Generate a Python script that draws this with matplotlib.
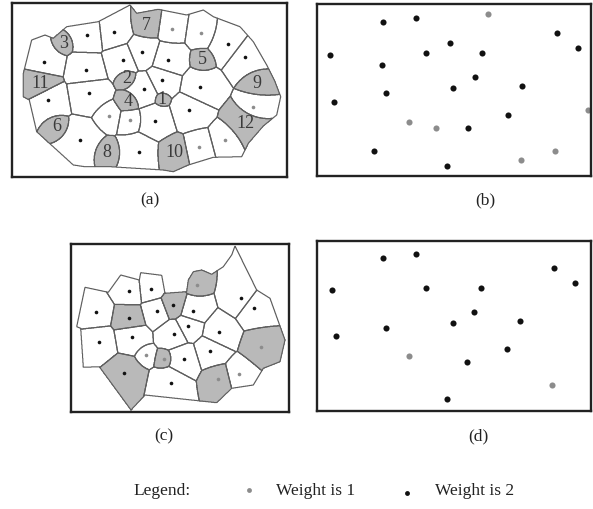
import numpy as np
import matplotlib
matplotlib.use('Agg')
import matplotlib.pyplot as plt
from matplotlib.path import Path

plt.rcParams['font.family'] = ['Liberation Serif', 'DejaVu Serif']

# ---- panel (a): sites (x, y in picture pixels), weights, shading, labels
a_x = [44.3, 63.3, 87.3, 114.0, 146.7, 172.0, 201.0, 228.0, 245.0,
       40.0, 86.3, 122.7, 142.0, 168.3, 202.3, 256.7,
       48.3, 89.0, 126.7, 144.0, 162.0, 200.0,
       128.3, 162.3, 189.3, 253.3, 245.0,
       56.7, 109.0, 130.3, 155.3, 199.0, 225.3,
       80.0, 107.3, 139.3, 174.0]
a_y = [62.0, 43.3, 35.0, 32.0, 25.0, 28.7, 33.0, 43.7, 56.7,
       83.3, 70.0, 60.3, 52.3, 60.3, 60.0, 83.3,
       99.7, 92.7, 78.3, 89.3, 80.3, 87.3,
       101.7, 99.0, 110.3, 106.7, 124.0,
       126.7, 116.0, 120.0, 120.7, 147.0, 140.0,
       140.0, 152.3, 152.0, 152.3]
a_w = [1, 0.55, 1, 1, 0.8, 0.8, 0.8, 1, 1,
       1, 1, 1, 1, 1, 0.6, 0.7,
       1, 1, 0.58, 1, 1, 1,
       0.62, 0.45, 1, 0.8, 1,
       0.6, 0.7, 0.7, 1, 0.85, 0.85,
       1, 0.62, 1, 0.85]
a_label = ['', '3', '', '', '7', '', '', '', '',
           '11', '', '', '', '', '5', '9',
           '', '', '2', '', '', '',
           '4', '1', '', '', '12',
           '6', '', '', '', '', '',
           '', '8', '', '10']
a_dot = ['k', '', 'k', 'k', '', 'g', 'g', 'k', 'k',
         '', 'k', 'k', 'k', 'k', '', '',
         'k', 'k', '', 'k', 'k', 'k',
         '', '', 'k', 'g', '',
         '', 'g', 'g', 'k', 'g', 'g',
         'k', '', 'k', '']
a_bx = [31.7, 45.0, 53.3, 66.7, 98.3, 130.0, 136.7, 158.3, 186.7, 203.3, 213.3, 240.0,
        253.3, 266.7, 275.0, 280.7, 276.7, 263.3, 248.3, 241.7, 213.3, 188.3, 173.3,
        163.3, 110.0, 85.0, 73.3, 36.7, 29.3, 23.3, 23.3]
a_by = [40.0, 35.0, 38.3, 26.7, 21.7, 5.0, 13.3, 9.3, 15.0, 10.0, 16.7, 26.7,
        41.7, 65.0, 81.7, 96.7, 115.0, 126.0, 143.3, 156.7, 157.3, 165.0, 171.7,
        170.0, 166.7, 166.7, 165.0, 131.7, 100.0, 96.7, 73.3]

# ---- panel (c)
c_x = [129.3, 151.0, 96.0, 129.0, 157.0, 172.7, 193.3, 240.7, 254.0,
       99.3, 131.7, 174.3, 188.3, 218.7, 183.7, 210.0, 124.3, 170.7,
       196.7, 146.3, 163.7, 260.7, 218.0, 239.3]
c_y = [291.0, 288.7, 312.3, 318.3, 310.7, 304.7, 310.7, 297.7, 307.7,
       342.3, 336.7, 333.7, 326.3, 332.3, 358.7, 350.7, 373.3, 383.0,
       285.3, 355.0, 358.7, 346.7, 379.0, 373.7]
c_w = [1, 1, 1, 1, 1, 1, 1, 1, 1,
       1, 1, 1, 1, 1, 1, 1, 1, 1,
       0.7, 0.6, 0.55, 0.9, 0.85, 0.85]
c_shade = [0, 0, 0, 1, 0, 1, 0, 0, 0,
           0, 0, 0, 0, 0, 0, 0, 1, 0,
           1, 0, 1, 1, 1, 0]
c_dot = ['k'] * 18 + ['g'] * 6
c_bx = [85.0, 108.3, 120.7, 139.3, 140.7, 161.7, 165.0, 186.7, 188.3, 193.3, 201.7,
        211.7, 223.3, 231.7, 235.0, 256.7, 270.0, 285.0, 280.0, 263.3, 253.3, 231.7,
        216.7, 145.0, 131.0, 99.3, 83.3, 80.7, 76.7]
c_by = [287.3, 292.3, 275.0, 280.0, 272.7, 275.3, 293.3, 291.7, 280.0, 271.7, 270.0,
        274.3, 266.7, 255.0, 246.0, 290.0, 298.3, 340.0, 361.7, 368.3, 385.0, 388.3,
        402.7, 395.0, 410.0, 366.7, 367.3, 328.3, 326.7]

# ---- panel (b) and (d): weight-2 (black) and weight-1 (grey) points
b_black_x = [330.0, 382.7, 416.0, 450.3, 426.3, 482.3, 382.0, 474.7, 385.7,
             453.0, 522.3, 334.3, 508.3, 468.0, 374.3, 447.0, 556.7, 577.7]
b_black_y = [55.0, 22.3, 18.0, 43.0, 53.0, 53.0, 64.7, 77.3, 93.3,
             88.3, 86.3, 101.7, 115.0, 128.3, 151.3, 166.0, 32.7, 48.0]
b_grey_x = [487.7, 409.0, 435.7, 521.3, 554.7, 588.3]
b_grey_y = [13.7, 122.0, 128.0, 159.7, 151.3, 110.0]

d_black_x = [383.3, 416.0, 331.7, 426.3, 481.3, 554.3, 575.0, 473.7, 452.7,
             520.3, 386.0, 336.0, 506.7, 467.3, 446.7]
d_black_y = [258.0, 253.7, 290.3, 288.3, 288.3, 268.3, 283.3, 312.3, 323.3,
             321.0, 328.0, 336.3, 349.3, 362.3, 399.3]
d_grey_x = [409.3, 552.3]
d_grey_y = [356.0, 385.0]

W, H = 593, 509
EDGE = '#5e5e5e'
FILL = '#b9b9b9'
BLACK = '#111111'
GREY = '#8c8c8c'

fig = plt.figure(figsize=(W / 100, H / 100), dpi=100)

# overlay for captions and legend
ov = fig.add_axes([0, 0, 1, 1])
ov.set_xlim(0, W)
ov.set_ylim(H, 0)
ov.axis('off')


def panel(x0, x1, y0, y1):
    ax = fig.add_axes([x0 / W, 1 - y1 / H, (x1 - x0) / W, (y1 - y0) / H])
    ax.set_xlim(x0, x1)
    ax.set_ylim(y1, y0)
    ax.set_xticks([])
    ax.set_yticks([])
    for s in ax.spines.values():
        s.set_linewidth(1.7)
        s.set_color('#222222')
    return ax


def cells(ax, xs, ys, ws, bx, by, shaded, step=0.3):
    x0, x1 = ax.get_xlim()
    y1, y0 = ax.get_ylim()
    gx = np.arange(x0, x1, step)
    gy = np.arange(y0, y1, step)
    X, Y = np.meshgrid(gx, gy)
    best = np.full(X.shape, np.inf)
    lab = np.full(X.shape, -1)
    for i, (sx, sy, w) in enumerate(zip(xs, ys, ws)):
        d = np.hypot(X - sx, Y - sy) / w
        m = d < best
        best[m] = d[m]
        lab[m] = i
    inside = Path(np.column_stack([bx, by])).contains_points(
        np.column_stack([X.ravel(), Y.ravel()])).reshape(X.shape)
    lab[~inside] = -1
    sh = np.isin(lab, [i for i, s in enumerate(shaded) if s]).astype(float)
    ax.contourf(X, Y, sh, levels=[0.5, 1.5], colors=[FILL])
    for i in range(len(xs)):
        ax.contour(X, Y, (lab == i).astype(float), levels=[0.5],
                   colors=EDGE, linewidths=0.8)


def dots(ax, xs, ys, kinds, size=2.6):
    for k, col in (('k', BLACK), ('g', GREY)):
        px = [x for x, t in zip(xs, kinds) if t == k]
        py = [y for y, t in zip(ys, kinds) if t == k]
        ax.plot(px, py, 'o', color=col, ms=size, mec='none', zorder=3)


# (a)
ax_a = panel(11.7, 287.3, 3.3, 176.7)
cells(ax_a, a_x, a_y, a_w, a_bx, a_by, [lab != '' for lab in a_label])
dots(ax_a, a_x, a_y, a_dot)
for x, y, t in zip(a_x, a_y, a_label):
    if t:
        ax_a.text(x, y, t, ha='center', va='center', fontsize=13, color='#3a3a3a', zorder=4)

# (b)
ax_b = panel(317, 591, 3.5, 176)
ax_b.plot(b_black_x, b_black_y, 'o', color=BLACK, ms=4.4, mec='none')
ax_b.plot(b_grey_x, b_grey_y, 'o', color=GREY, ms=4.4, mec='none')

# (c)
ax_c = panel(70.7, 289, 244, 412)
cells(ax_c, c_x, c_y, c_w, c_bx, c_by, c_shade)
dots(ax_c, c_x, c_y, c_dot)

# (d)
ax_d = panel(317, 591, 241, 411)
ax_d.plot(d_black_x, d_black_y, 'o', color=BLACK, ms=4.4, mec='none')
ax_d.plot(d_grey_x, d_grey_y, 'o', color=GREY, ms=4.4, mec='none')

# captions
for x, y, t in [(150, 200, '(a)'), (485, 200, '(b)'), (164, 436, '(c)'), (478, 436, '(d)')]:
    ov.text(x, y, t, ha='center', va='center', fontsize=12.5, color='#222222')

# legend
ov.text(133, 491, 'Legend:', ha='left', va='center', fontsize=12.5, color='#222222')
ov.plot([249], [490], 'o', color=GREY, ms=3.5, mec='none')
ov.text(276, 491, 'Weight is 1', ha='left', va='center', fontsize=12.5, color='#222222')
ov.plot([407], [493], 'o', color=BLACK, ms=3.5, mec='none')
ov.text(435, 491, 'Weight is 2', ha='left', va='center', fontsize=12.5, color='#222222')

fig.savefig('out.png', dpi=100)
